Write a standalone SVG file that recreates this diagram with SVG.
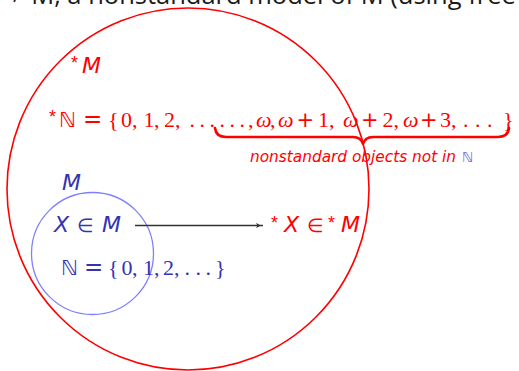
<svg xmlns="http://www.w3.org/2000/svg" width="519" height="371" viewBox="0 0 519 371">
<defs>
<style>
.serif{font-family:"Liberation Serif","DejaVu Serif",serif;font-size:22px}
.sym{font-family:"DejaVu Sans",sans-serif}
.it{font-family:"DejaVu Sans",sans-serif;font-style:italic;font-size:22px}
.ast{font-family:"Liberation Sans",sans-serif;font-size:18px}
.red{fill:#ff0000}
.blue{fill:#3333b3}
.top{font-family:"Open Sans","DejaVu Sans",sans-serif;font-size:25.5px;fill:#1a1a1a}
</style>
<marker id="ah" viewBox="0 0 10 10" refX="10" refY="5" markerWidth="8" markerHeight="7" markerUnits="userSpaceOnUse" orient="auto">
<path d="M0,1 Q5,5 10,5 Q5,5 0,9 Q3,5 0,1Z" fill="#333"/>
</marker>
</defs>
<rect width="519" height="371" fill="#fff"/>
<text class="top" x="10" y="4">≠ M, a nonstandard model of M (using free ultrafilter)</text>

<g id="starM-circle">
<circle cx="188" cy="189" r="181" fill="none" stroke="#ff0000" stroke-width="1.6"/>
<text class="ast red" x="71" y="69">*</text>
<text class="it red" x="82" y="73">M</text>
</g>

<g id="starN">
<text class="ast red" x="49" y="123">*</text>
<text class="sym red" font-size="21" x="59" y="127">ℕ</text>
<text class="sym red" font-size="23" x="83" y="127">=</text>
<text class="serif red" y="127" x="108 121 132 143.5 154 164 175 189.5 199.5 209.5 219.5 229.5 239.5 248">{0,1,2,......,</text>
<text class="serif red" y="127" font-style="italic" x="256 278 343 403">ωωωω</text>
<text class="serif red" y="127" x="270 318 329 382.5 393.5 440 451 463 475 487 503">,1,2,3,...}</text>
<text class="sym red" font-size="21" y="127" x="296.5 361 420">+++</text>
<path d="M215,128 Q216,137 226,137 L353,137 Q361,137 363,144 Q365,137 373,137 L498,137 Q508,137 509,128" fill="none" stroke="#ff0000" stroke-width="2.6" stroke-linejoin="round" stroke-linecap="round"/>
<text class="red" font-family="DejaVu Sans,sans-serif" font-style="italic" font-size="15" x="250" y="162" textLength="206" lengthAdjust="spacingAndGlyphs">nonstandard objects not in</text>
<text font-family="DejaVu Sans,sans-serif" font-size="14" fill="#6b6bd6" x="462" y="162">ℕ</text>
</g>

<g id="M-circle">
<circle cx="92.5" cy="253.5" r="61" fill="none" stroke="#8080ff" stroke-width="1.3"/>
<text class="it blue" x="62" y="190">M</text>
<text class="it blue" x="54" y="232">X</text>
<text class="sym blue" font-size="19" x="77" y="232">∈</text>
<text class="it blue" x="102" y="232">M</text>
<text class="sym blue" font-size="21" x="61" y="275">ℕ</text>
<text class="sym blue" font-size="23" x="84" y="275">=</text>
<text class="serif blue" y="275" x="108 121.5 132 143 154 163 174 184.5 195.5 205.5 215">{0,1,2,...}</text>
</g>

<g id="starX">
<text class="ast red" x="271" y="229">*</text>
<text class="it red" x="284" y="232">X</text>
<text class="sym red" font-size="19" x="307" y="232">∈</text>
<text class="ast red" x="328" y="229">*</text>
<text class="it red" x="341" y="232">M</text>
</g>

<g id="connectors">
<line x1="135" y1="225.5" x2="263" y2="225.5" stroke="#333" stroke-width="1.3" marker-end="url(#ah)"/>
</g>
</svg>
